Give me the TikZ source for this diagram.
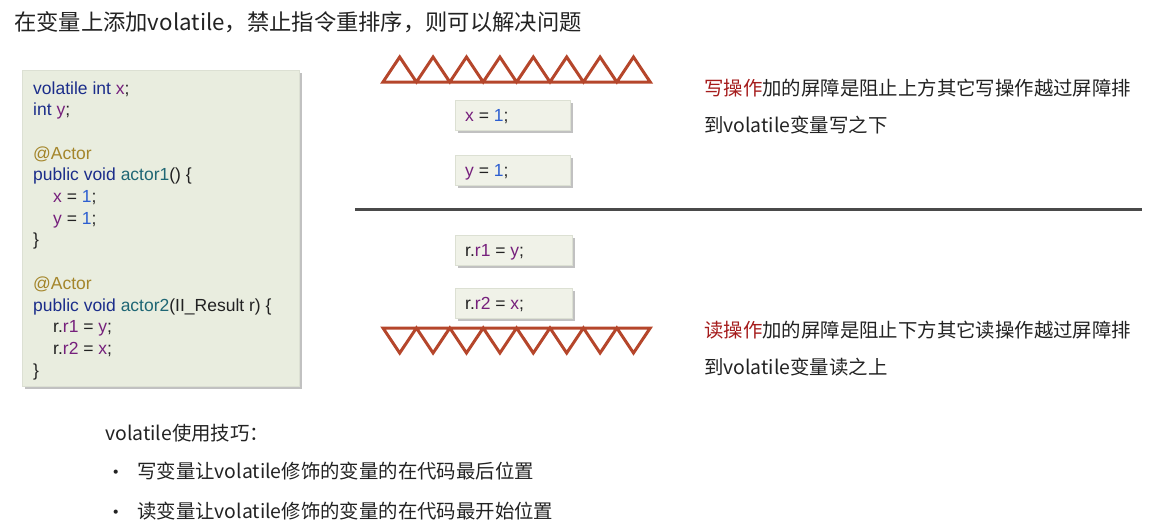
\documentclass[tikz,border=0pt]{standalone}
\usepackage{fontspec}
\setmainfont{Noto Sans CJK SC}
\newfontfamily\codefont{Liberation Sans}
\usepackage{xcolor}
\usetikzlibrary{shadows}

\definecolor{codebg}{HTML}{E9EDDF}
\definecolor{boxbg}{HTML}{F0F2E8}
\definecolor{boxline}{HTML}{DCE0D3}
\definecolor{barrier}{HTML}{B5462B}
\definecolor{kwblue}{HTML}{1B2D8A}
\definecolor{varpurple}{HTML}{76207C}
\definecolor{numblue}{HTML}{2C5ED0}
\definecolor{funteal}{HTML}{1E6674}
\definecolor{annogold}{HTML}{A4852A}
\definecolor{notered}{HTML}{A51C1C}
\definecolor{inkgray}{HTML}{222222}
\definecolor{divgray}{HTML}{4A4A4A}

\newcommand\kw[1]{\textcolor{kwblue}{#1}}
\newcommand\cvar[1]{\textcolor{varpurple}{#1}}
\newcommand\cnum[1]{\textcolor{numblue}{#1}}
\newcommand\cfun[1]{\textcolor{funteal}{#1}}
\newcommand\cann[1]{\textcolor{annogold}{#1}}

\begin{document}
\begin{tikzpicture}[x=1pt,y=-1pt,
    codebox/.style={fill=codebg, draw=boxline, line width=.5pt,
        drop shadow={shadow xshift=3pt, shadow yshift=-3pt, fill=gray!70, opacity=.7}},
    stmtbox/.style={fill=boxbg, draw=boxline, line width=.5pt,
        drop shadow={shadow xshift=3pt, shadow yshift=-3pt, fill=gray!70, opacity=.7}},
    codeline/.style={anchor=base west, inner sep=0pt, text=inkgray,
        font=\codefont\fontsize{17.5}{21}\selectfont},
    note/.style={anchor=west, inner sep=0pt, text=inkgray,
        font=\fontsize{19.4}{23}\selectfont},
    fence/.style={draw=barrier, line width=3pt}]
                \useasboundingbox (0,0) rectangle (1152,531);

                % title
                \node[anchor=west, inner sep=0pt, text=inkgray,
                    font=\fontsize{22.3}{26}\selectfont] (title) at (14,22)
                    {在变量上添加volatile，禁止指令重排序，则可以解决问题};

                % code listing
                \path[codebox] (22,70) rectangle (299,386);
                \node[codeline] (c1) at (33,94) {\kw{volatile int} \cvar{x};};
                \node[codeline] (c2) at (33,115.7) {\kw{int} \cvar{y};};
                \node[codeline] (c3) at (33,159.1) {\cann{@Actor}};
                \node[codeline] (c4) at (33,180.8) {\kw{public void} \cfun{actor1}() \{};
                \node[codeline] (c5) at (53,202.5) {\cvar{x} = \cnum{1};};
                \node[codeline] (c6) at (53,224.2) {\cvar{y} = \cnum{1};};
                \node[codeline] (c7) at (33,245.9) {\}};
                \node[codeline] (c8) at (33,289.3) {\cann{@Actor}};
                \node[codeline] (c9) at (33,311) {\kw{public void} \cfun{actor2}(II\_Result r) \{};
                \node[codeline] (c10) at (53,332.7) {r.\cvar{r1} = \cvar{y};};
                \node[codeline] (c11) at (53,354.4) {r.\cvar{r2} = \cvar{x};};
                \node[codeline] (c12) at (33,376.1) {\}};

                % write barrier
                \draw[fence] (383,82) -- (399.7,57) -- (416.4,82) -- (433.1,57) -- (449.8,82)
                    -- (466.5,57) -- (483.2,82) -- (499.9,57) -- (516.6,82) -- (533.3,57)
                    -- (550,82) -- (566.7,57) -- (583.4,82) -- (600.1,57) -- (616.8,82)
                    -- (633.5,57) -- (650.2,82) -- cycle;

                \path[stmtbox] (455,100) rectangle (570,130);
                \node[codeline] (wx) at (465,121) {\cvar{x} = \cnum{1};};
                \path[stmtbox] (455,155) rectangle (570,185);
                \node[codeline] (wy) at (465,176) {\cvar{y} = \cnum{1};};

                \draw[draw=divgray, line width=3pt] (355,209) -- (1142,209);

                \path[stmtbox] (455,235) rectangle (572,265);
                \node[codeline] (rr1) at (465,256) {r.\cvar{r1} = \cvar{y};};
                \path[stmtbox] (455,288) rectangle (572,318);
                \node[codeline] (rr2) at (465,309) {r.\cvar{r2} = \cvar{x};};

                % read barrier
                \draw[fence] (383,328) -- (399.7,353) -- (416.4,328) -- (433.1,353) -- (449.8,328)
                    -- (466.5,353) -- (483.2,328) -- (499.9,353) -- (516.6,328) -- (533.3,353)
                    -- (550,328) -- (566.7,353) -- (583.4,328) -- (600.1,353) -- (616.8,328)
                    -- (633.5,353) -- (650.2,328) -- cycle;

                % notes
                \node[note] (wnote1) at (704,88) {\textcolor{notered}{写操作}加的屏障是阻止上方其它写操作越过屏障排};
                \node[note] (wnote2) at (704,125) {到volatile变量写之下};
                \node[note] (rnote1) at (704,330) {\textcolor{notered}{读操作}加的屏障是阻止下方其它读操作越过屏障排};
                \node[note] (rnote2) at (704,367) {到volatile变量读之上};

                % tips
                \node[note] (tips) at (105,433) {volatile使用技巧：};
                \node[note] (dot1) at (106,475) {•};
                \node[note] (tip1) at (137,471) {写变量让volatile修饰的变量的在代码最后位置};
                \node[note] (dot2) at (106,515) {•};
                \node[note] (tip2) at (137,511) {读变量让volatile修饰的变量的在代码最开始位置};
            \end{tikzpicture}
\end{document}
